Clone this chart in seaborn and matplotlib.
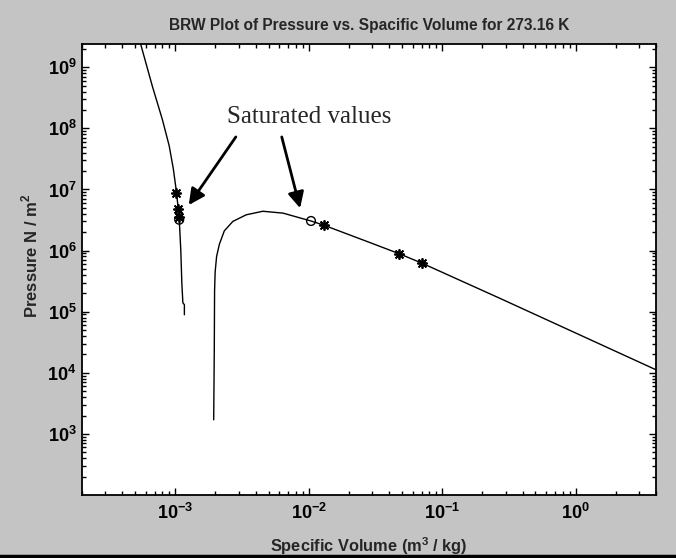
import matplotlib
matplotlib.use("Agg")
import matplotlib.pyplot as plt
import matplotlib.ticker as mticker
from matplotlib.lines import Line2D
import seaborn as sns
import numpy as np

# liquid-side branch of the BWR isotherm (m^3/kg, N/m^2)
v_liq = [5.5e-4, 6.75e-4, 8.0e-4, 9.0e-4, 9.66e-4, 1.02e-3, 1.07e-3,
         1.10e-3, 1.12e-3, 1.14e-3, 1.17e-3, 1.17e-3]
p_liq = [2.4e9, 4.8e8, 1.4e8, 5.2e7, 2.2e7, 9.2e6, 3.4e6,
         1.0e6, 2.9e5, 1.4e5, 1.3e5, 8.9e4]

# vapour-side branch
v_vap = [1.94e-3, 1.96e-3, 1.97e-3, 1.99e-3, 2.04e-3, 2.14e-3, 2.33e-3,
         2.70e-3, 3.40e-3, 4.53e-3, 6.42e-3, 9.6e-3, 1.04e-2, 1.30e-2,
         2.88e-2, 4.75e-2, 7.08e-2, 0.273, 4.0]
p_vap = [1.7e3, 2.4e4, 2.2e5, 4.5e5, 8.0e5, 1.27e6, 2.1e6,
         3.0e6, 3.85e6, 4.4e6, 4.1e6, 3.2e6, 3.05e6, 2.6e6,
         1.35e6, 8.9e5, 6.2e5, 1.64e5, 1.12e4]

# iteration points (*) and saturated values (o)
v_star = [1.01e-3, 1.04e-3, 1.06e-3, 1.30e-2, 4.75e-2, 7.08e-2]
p_star = [8.9e6, 4.8e6, 3.5e6, 2.6e6, 8.9e5, 6.2e5]
v_sat = [1.07e-3, 1.04e-2]
p_sat = [3.2e6, 3.05e6]

sns.set_style("ticks")
plt.rcParams["font.family"] = ["Liberation Sans", "DejaVu Sans"]
plt.rcParams["mathtext.fontset"] = "custom"
plt.rcParams["mathtext.rm"] = "Liberation Sans"
plt.rcParams["mathtext.bf"] = "Liberation Sans:bold"

fig = plt.figure(figsize=(6.76, 5.58), dpi=100, facecolor="#c4c4c4")
ax = fig.add_axes([0.1213, 0.1129, 0.8491, 0.8082])
ax.set_facecolor("white")

sns.lineplot(x=v_liq, y=p_liq, sort=False, estimator=None, color="k", lw=1.0, ax=ax)
sns.lineplot(x=v_vap, y=p_vap, sort=False, estimator=None, color="k", lw=1.0, ax=ax)
sns.scatterplot(x=v_star, y=p_star, marker=(8, 2, 0), s=45, color="k",
                edgecolor="k", linewidth=1.3, ax=ax, zorder=3)
sns.scatterplot(x=v_sat, y=p_sat, marker="o", s=40, facecolor="none",
                edgecolor="k", linewidth=1.0, ax=ax, zorder=3)

ax.set_xscale("log")
ax.set_yscale("log")
ax.set_xlim(2e-4, 4)
ax.set_ylim(1e2, 2.4e9)

def dec_fmt(val, pos):
    e = int(round(np.log10(val)))
    return r"$\mathbf{10^{%d}}$" % e

for axis, lo, hi in ((ax.xaxis, -3, 0), (ax.yaxis, 3, 9)):
    axis.set_major_locator(mticker.FixedLocator([10.0 ** k for k in range(lo, hi + 1)]))
    axis.set_major_formatter(mticker.FuncFormatter(dec_fmt))
    axis.set_minor_locator(mticker.LogLocator(base=10, subs=np.arange(2, 10), numticks=100))
    axis.set_minor_formatter(mticker.NullFormatter())

ax.tick_params(which="both", direction="in", top=True, right=True, width=1.0, colors="k")
ax.tick_params(which="major", length=5, labelsize=13, pad=4)
ax.tick_params(axis="x", which="major", pad=6)
ax.tick_params(which="minor", length=3)
for s in ax.spines.values():
    s.set_linewidth(1.3)
    s.set_color("k")

ax.set_title("BRW Plot of Pressure vs. Spacific Volume for 273.16 K",
             fontsize=11.2, fontweight="bold", pad=10)
ax.set_xlabel("Specific Volume (m$^\\mathbf{3}$ / kg)", fontsize=11.8, fontweight="bold")
ax.set_ylabel("Pressure N / m$^\\mathbf{2}$", fontsize=12, fontweight="bold")
ax.xaxis.set_label_coords(0.5, -0.09)
ax.yaxis.set_label_coords(-0.072, 0.53)

# annotation: text and arrows pointing at the saturated values
ax.text(0.253, 0.838, "Saturated values", transform=ax.transAxes,
        fontsize=18, family=["Liberation Serif", "DejaVu Serif"], va="center", ha="left")
arrow = dict(arrowstyle="-|>", color="k", lw=2.0, mutation_scale=24, shrinkA=0, shrinkB=0)
ax.annotate("", xy=(0.186, 0.643), xytext=(0.268, 0.794),
            xycoords="axes fraction", textcoords="axes fraction", arrowprops=arrow)
ax.annotate("", xy=(0.380, 0.636), xytext=(0.348, 0.794),
            xycoords="axes fraction", textcoords="axes fraction", arrowprops=arrow)

# dark edge along the bottom of the scanned page
fig.add_artist(Line2D([0, 1], [0.003, 0.003], transform=fig.transFigure, color="k", lw=2.5))

fig.savefig("out.png", dpi=100, facecolor=fig.get_facecolor())
